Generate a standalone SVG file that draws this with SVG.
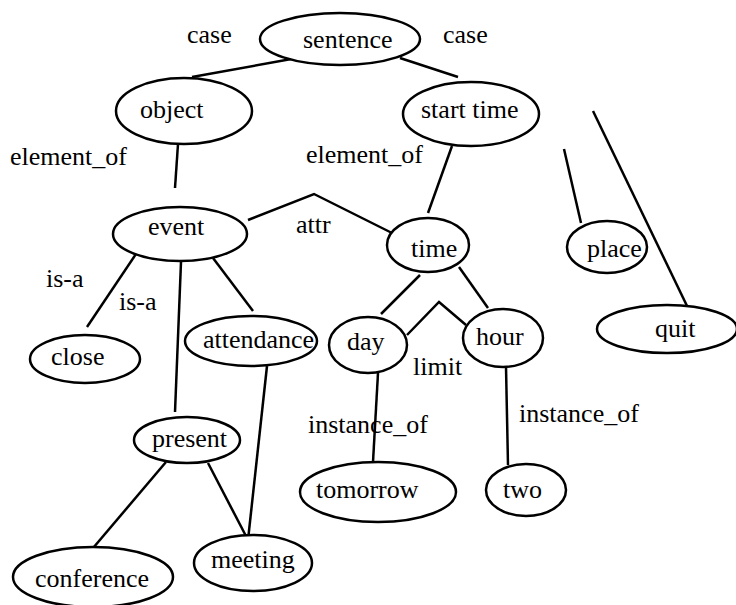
<svg xmlns="http://www.w3.org/2000/svg" width="736" height="605" viewBox="0 0 736 605">
<rect width="736" height="605" fill="#fff"/>
<g id="connectors" fill="none" stroke="#000" stroke-width="2.5">
<line x1="297" y1="58" x2="192" y2="77"/>
<line x1="400" y1="58" x2="458" y2="77"/>
<line x1="178" y1="144" x2="175" y2="188"/>
<line x1="452" y1="146" x2="428" y2="213"/>
<line x1="564" y1="149" x2="581" y2="223"/>
<line x1="593" y1="111" x2="688" y2="308"/>
<polyline points="248,220 314,194 392,233"/>
<line x1="140" y1="248" x2="87" y2="327"/>
<line x1="213" y1="258" x2="253" y2="311"/>
<line x1="181" y1="262" x2="175" y2="412"/>
<line x1="420" y1="275" x2="381" y2="314"/>
<line x1="459" y1="267" x2="488" y2="308"/>
<polyline points="407,335 439,302 466,325"/>
<line x1="267" y1="366" x2="248" y2="540"/>
<line x1="166" y1="462" x2="88" y2="554"/>
<line x1="208" y1="463" x2="247" y2="538"/>
<line x1="378" y1="373" x2="373" y2="462"/>
<line x1="506" y1="367" x2="508" y2="465"/>
</g>
<g id="labels">
<text x="187" y="43" font-family="Liberation Serif" font-size="26">case</text>
<text x="443" y="43" font-family="Liberation Serif" font-size="26">case</text>
<text x="10" y="165" font-family="Liberation Serif" font-size="26">element_of</text>
<text x="306" y="163" font-family="Liberation Serif" font-size="26">element_of</text>
<text x="296" y="233" font-family="Liberation Serif" font-size="26">attr</text>
<text x="46" y="287" font-family="Liberation Serif" font-size="26">is-a</text>
<text x="119" y="310" font-family="Liberation Serif" font-size="26">is-a</text>
<text x="413" y="375" font-family="Liberation Serif" font-size="26">limit</text>
<text x="308" y="433" font-family="Liberation Serif" font-size="26">instance_of</text>
<text x="519" y="422" font-family="Liberation Serif" font-size="26">instance_of</text>
</g>
<g id="sentence"><ellipse cx="340" cy="39" rx="80" ry="26" fill="#fff" stroke="#000" stroke-width="2.5"/><text x="303" y="48" font-family="Liberation Serif" font-size="26">sentence</text></g>
<g id="object"><ellipse cx="184" cy="111" rx="68" ry="33" fill="#fff" stroke="#000" stroke-width="2.5"/><text x="140" y="118" font-family="Liberation Serif" font-size="26">object</text></g>
<g id="start_time"><ellipse cx="471" cy="114" rx="68" ry="32" fill="#fff" stroke="#000" stroke-width="2.5"/><text x="421" y="118" font-family="Liberation Serif" font-size="26">start time</text></g>
<g id="event"><ellipse cx="180" cy="234" rx="67" ry="27" fill="#fff" stroke="#000" stroke-width="2.5"/><text x="148" y="235" font-family="Liberation Serif" font-size="26">event</text></g>
<g id="time"><ellipse cx="428" cy="245" rx="41" ry="27" fill="#fff" stroke="#000" stroke-width="2.5"/><text x="411" y="257" font-family="Liberation Serif" font-size="26">time</text></g>
<g id="place"><ellipse cx="607" cy="247" rx="40" ry="26" fill="#fff" stroke="#000" stroke-width="2.5"/><text x="587" y="257" font-family="Liberation Serif" font-size="26">place</text></g>
<g id="quit"><ellipse cx="667" cy="329" rx="70" ry="24" fill="#fff" stroke="#000" stroke-width="2.5"/><text x="655" y="337" font-family="Liberation Serif" font-size="26">quit</text></g>
<g id="close"><ellipse cx="85" cy="359" rx="55" ry="24" fill="#fff" stroke="#000" stroke-width="2.5"/><text x="51" y="365" font-family="Liberation Serif" font-size="26">close</text></g>
<g id="attendance"><ellipse cx="251" cy="341" rx="66" ry="25" fill="#fff" stroke="#000" stroke-width="2.5"/><text x="203" y="348" font-family="Liberation Serif" font-size="26">attendance</text></g>
<g id="day"><ellipse cx="368" cy="345" rx="39" ry="28" fill="#fff" stroke="#000" stroke-width="2.5"/><text x="347" y="350" font-family="Liberation Serif" font-size="26">day</text></g>
<g id="hour"><ellipse cx="503" cy="338" rx="40" ry="29" fill="#fff" stroke="#000" stroke-width="2.5"/><text x="476" y="345" font-family="Liberation Serif" font-size="26">hour</text></g>
<g id="present"><ellipse cx="187" cy="440" rx="53" ry="23" fill="#fff" stroke="#000" stroke-width="2.5"/><text x="152" y="447" font-family="Liberation Serif" font-size="26">present</text></g>
<g id="tomorrow"><ellipse cx="378" cy="492" rx="78" ry="30" fill="#fff" stroke="#000" stroke-width="2.5"/><text x="316" y="498" font-family="Liberation Serif" font-size="26">tomorrow</text></g>
<g id="two"><ellipse cx="526" cy="490" rx="40" ry="26" fill="#fff" stroke="#000" stroke-width="2.5"/><text x="503" y="498" font-family="Liberation Serif" font-size="26">two</text></g>
<g id="meeting"><ellipse cx="253" cy="563" rx="59" ry="28" fill="#fff" stroke="#000" stroke-width="2.5"/><text x="211" y="568" font-family="Liberation Serif" font-size="26">meeting</text></g>
<g id="conference"><ellipse cx="93" cy="577" rx="80" ry="30" fill="#fff" stroke="#000" stroke-width="2.5"/><text x="35" y="587" font-family="Liberation Serif" font-size="26">conference</text></g>
</svg>
